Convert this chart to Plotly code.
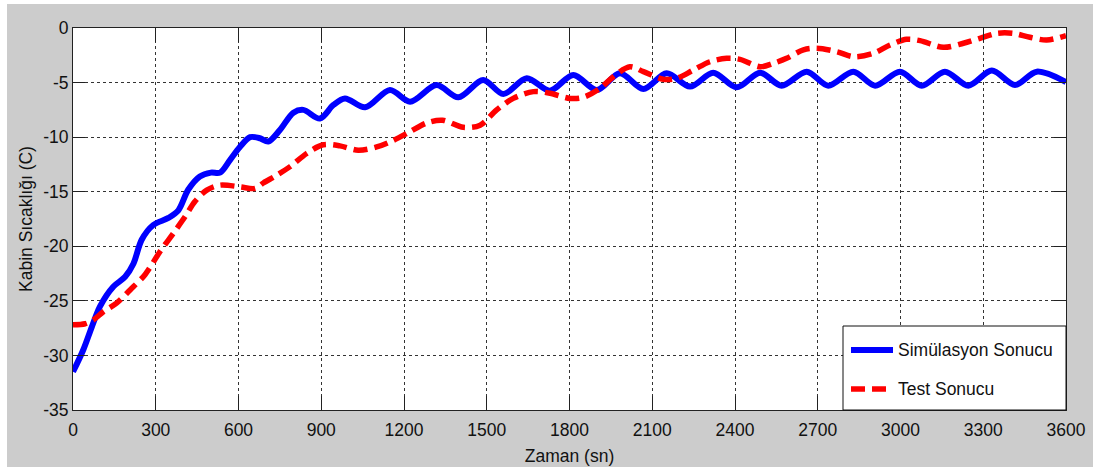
import plotly.graph_objects as go

# ---------------- data ----------------
sim_t = [0, 37, 68, 98, 146, 189, 219, 249, 291, 346, 382, 418, 460, 500, 533,
         569, 605, 642, 678, 708, 750, 799, 835, 895, 944, 986, 1059, 1149,
         1222, 1318, 1397, 1487, 1560, 1645, 1729, 1814, 1899, 1983, 2068,
         2152, 2237, 2321, 2406, 2491, 2569, 2660, 2738, 2829, 2908, 2998,
         3077, 3161, 3246, 3331, 3415, 3494, 3600]
sim_v = [-31.5, -29.5, -27.4, -25.5, -23.7, -22.8, -21.6, -19.4, -18.05, -17.4,
         -16.7, -14.8, -13.6, -13.25, -13.25, -12.1, -10.9, -10.0, -10.1,
         -10.4, -9.35, -7.76, -7.5, -8.3, -7.05, -6.45, -7.27, -5.68, -6.75,
         -5.22, -6.35, -4.76, -6.05, -4.6, -5.74, -4.3, -5.68, -4.15, -5.59,
         -4.15, -5.37, -4.1, -5.44, -4.1, -5.28, -4.0, -5.28, -4.0, -5.28,
         -4.0, -5.28, -4.0, -5.28, -3.9, -5.22, -4.0, -4.95]

test_t = [0, 44, 74, 110, 158, 207, 261, 315, 364, 406, 442, 485, 533, 605,
          660, 690, 738, 787, 847, 907, 968, 1034, 1101, 1161, 1222, 1282,
          1340, 1415, 1476, 1536, 1596, 1669, 1729, 1802, 1850, 1911, 1959,
          2019, 2068, 2140, 2189, 2249, 2309, 2370, 2418, 2491, 2539, 2587,
          2648, 2696, 2769, 2829, 2901, 2962, 3022, 3071, 3155, 3228, 3288,
          3349, 3409, 3469, 3530, 3600]
test_v = [-27.2, -27.1, -26.75, -26.0, -25.2, -24.0, -22.6, -20.5, -18.8,
          -17.3, -15.9, -14.85, -14.4, -14.55, -14.7, -14.2, -13.5, -12.7,
          -11.5, -10.7, -10.8, -11.2, -10.9, -10.3, -9.5, -8.7, -8.45, -9.1,
          -8.9, -7.5, -6.45, -5.83, -5.98, -6.45, -6.35, -5.53, -4.46, -3.55,
          -4.0, -4.7, -4.6, -3.85, -3.09, -2.78, -2.87, -3.55, -3.24, -2.78,
          -2.0, -1.86, -2.17, -2.63, -2.32, -1.56, -1.04, -1.16, -1.77, -1.4,
          -0.94, -0.49, -0.49, -0.85, -1.1, -0.7]

x_ticks = [0, 300, 600, 900, 1200, 1500, 1800, 2100, 2400, 2700, 3000, 3300, 3600]
x_tick_labels = ["0", "300", "600", "900", "1200", "1500", "1800", "2100",
                 "2400", "2700", "3000", "3300", "3600"]
y_ticks = [-35, -30, -25, -20, -15, -10, -5, 0]
y_tick_labels = ["-35", "-30", "-25", "-20", "-15", "-10", "-5", "0"]

series_names = ["Simülasyon Sonucu", "Test Sonucu"]
x_title = "Zaman (sn)"
y_title = "Kabin Sıcaklığı (C)"

# ---------------- figure ----------------
FONT = "Liberation Sans, Arial, Helvetica, sans-serif"
W, H = 1096, 468
L, R, T, B = 73, 30, 28, 58
pw, ph = W - L - R, H - T - B

def px_x(p):
    return (p - L) / pw

def px_y(p):
    return (H - B - p) / ph

fig = go.Figure()
fig.add_trace(go.Scatter(x=sim_t, y=sim_v, mode="lines", name=series_names[0],
                         line=dict(color="#0000ff", width=6, shape="spline",
                                   smoothing=0.9)))
fig.add_trace(go.Scatter(x=test_t, y=test_v, mode="lines", name=series_names[1],
                         line=dict(color="#ff0000", width=5.5, dash="14px,7px",
                                   shape="spline", smoothing=0.9)))

shapes = [
    # grey figure background
    dict(type="rect", xref="paper", yref="paper", layer="below",
         x0=px_x(7), x1=px_x(1093), y0=px_y(467), y1=px_y(4),
         fillcolor="#cccccc", line=dict(width=0)),
    # white axes area
    dict(type="rect", xref="paper", yref="paper", layer="below",
         x0=0, x1=1, y0=0, y1=1, fillcolor="white", line=dict(width=0)),
    # legend box
    dict(type="rect", xref="paper", yref="paper", layer="above",
         x0=px_x(843), x1=1, y0=0, y1=px_y(326),
         fillcolor="white", line=dict(color="#111111", width=1)),
    dict(type="line", xref="paper", yref="paper", layer="above",
         x0=px_x(851), x1=px_x(893), y0=px_y(350), y1=px_y(350),
         line=dict(color="#0000ff", width=6)),
    dict(type="line", xref="paper", yref="paper", layer="above",
         x0=px_x(851), x1=px_x(893), y0=px_y(389), y1=px_y(389),
         line=dict(color="#ff0000", width=5.5, dash="14px,7px")),
]

annotations = [
    dict(xref="paper", yref="paper", x=px_x(896), y=px_y(350),
         xanchor="left", yanchor="middle", showarrow=False,
         text=series_names[0], font=dict(family=FONT, size=17.5, color="#111111")),
    dict(xref="paper", yref="paper", x=px_x(896), y=px_y(389),
         xanchor="left", yanchor="middle", showarrow=False,
         text=series_names[1], font=dict(family=FONT, size=17.5, color="#111111")),
]

axis_common = dict(
    showline=True, linecolor="#222222", linewidth=1, mirror="allticks",
    ticks="inside", tickcolor="#222222", tickwidth=1, automargin=False,
    showgrid=True, gridcolor="#333333", gridwidth=1, griddash="3px,3px",
    zeroline=False, tickfont=dict(family=FONT, size=17.5, color="#111111"),
)

fig.update_layout(
    width=W, height=H,
    margin=dict(l=L, r=R, t=T, b=B),
    paper_bgcolor="white", plot_bgcolor="white",
    showlegend=False,
    shapes=shapes, annotations=annotations,
    xaxis=dict(range=[0, 3600], tickvals=x_ticks, ticktext=x_tick_labels,
               ticklen=14, ticklabelstandoff=4,
               title=dict(text=x_title, standoff=10,
                          font=dict(family=FONT, size=17.5, color="#111111")),
               **axis_common),
    yaxis=dict(range=[-35, 0], tickvals=y_ticks, ticktext=y_tick_labels,
               ticklen=12,
               title=dict(text=y_title, standoff=6,
                          font=dict(family=FONT, size=17.5, color="#111111")),
               **axis_common),
)

fig.write_html("out.html")
